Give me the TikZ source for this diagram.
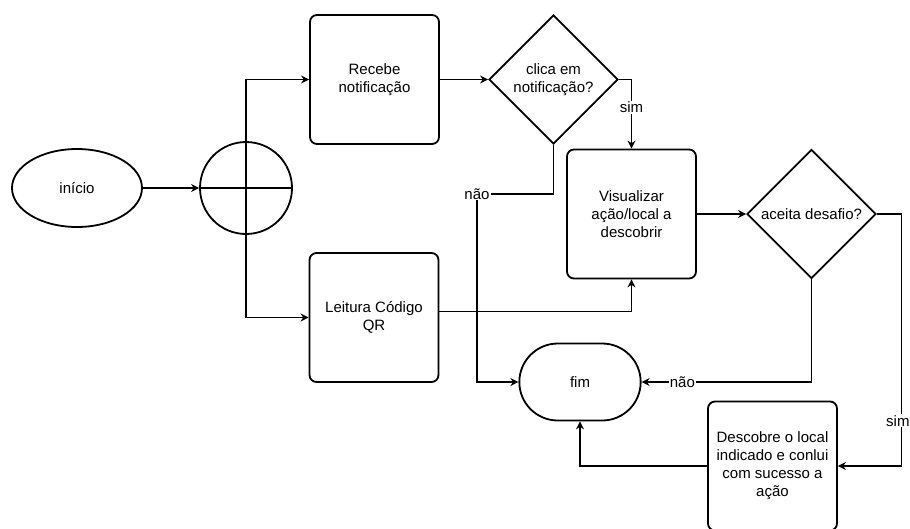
\documentclass[tikz,border=0pt]{standalone}
\usepackage{fontspec}
\setmainfont{Liberation Sans}
\usetikzlibrary{arrows.meta,positioning,shapes.geometric,shapes.misc}
\tikzset{
  base/.style={
    draw=black,
    line width=1.8pt,
    align=center,
    text=black,
    font=\fontsize{15}{18}\selectfont
  },
  process/.style={
    base,
    rectangle,
    rounded corners=7pt,
    minimum width=129pt,
    minimum height=129pt
  },
  decision/.style={
    base,
    diamond,
    aspect=1,
    inner sep=0pt,
    minimum width=129pt,
    minimum height=129pt
  },
  startnode/.style={
    base,
    ellipse,
    minimum width=130pt,
    minimum height=78pt
  },
  endnode/.style={
    base,
    rounded rectangle,
    minimum width=128pt,
    minimum height=77pt
  },
  junction/.style={
    draw=black,
    line width=1.8pt,
    circle,
    inner sep=0pt,
    minimum size=92pt
  },
  flow/.style={
    draw=black,
    line width=1.1pt,
    -{Stealth[length=8pt,width=8pt]}
  },
  answer/.style={
    fill=white,
    text=black,
    inner sep=1pt,
    font=\fontsize{15}{18}\selectfont
  }
}

\begin{document}
\begin{tikzpicture}[x=1pt,y=-1pt]
  \useasboundingbox (0,0) rectangle (910,528);

  \node[startnode] (inicio) at (77,188) {início};
  \node[junction] (split) at (246,188) {};

  \node[process] (recebe) at (374.5,79.5) {Recebe\\notificação};
  \node[decision] (clica) at (553.5,79.5) {clica em\\notificação?};
  \node[process] (leitura) at (374,317.5) {Leitura Código\\QR};

  \node[process] (visual) at (631.5,214) {Visualizar\\ação/local a\\descobrir};
  \node[decision] (aceita) at (811.5,214) {aceita desafio?};

  \node[endnode] (fim) at (580,382) {fim};
  \node[process] (descobre) at (772.5,466)
    {Descobre o local\\indicado e conlui\\com sucesso a\\ação};

  \coordinate (naoturn) at (477,194);

  \draw[flow] (inicio) -- (split.west);
  \draw[line width=1.1pt] (split.west) -- (split.east);
  \draw[flow] (split.center) |- (recebe.west);
  \draw[flow] (split.center) |- (leitura.west);

  \draw[flow] (recebe) -- (clica);
  \draw[flow] (clica.east) -| node[answer, pos=0.7] {sim} (visual.north);
  \draw[flow] (clica.south) |- (naoturn) |- (fim.west);
  \node[answer] (naolabel) at (naoturn) {não};

  \draw[flow] ([yshift=6pt]leitura.east) -| (visual.south);
  \draw[flow] (visual) -- (aceita);

  \draw[flow] (aceita.south) |- node[answer, pos=0.88] {não} (fim.east);
  \draw[flow] (aceita.east) -- ++(25,0) |- node[answer, pos=0.41, xshift=-4pt] {sim} (descobre.east);
  \draw[flow] (descobre.west) -| (fim.south);
\end{tikzpicture}
\end{document}
